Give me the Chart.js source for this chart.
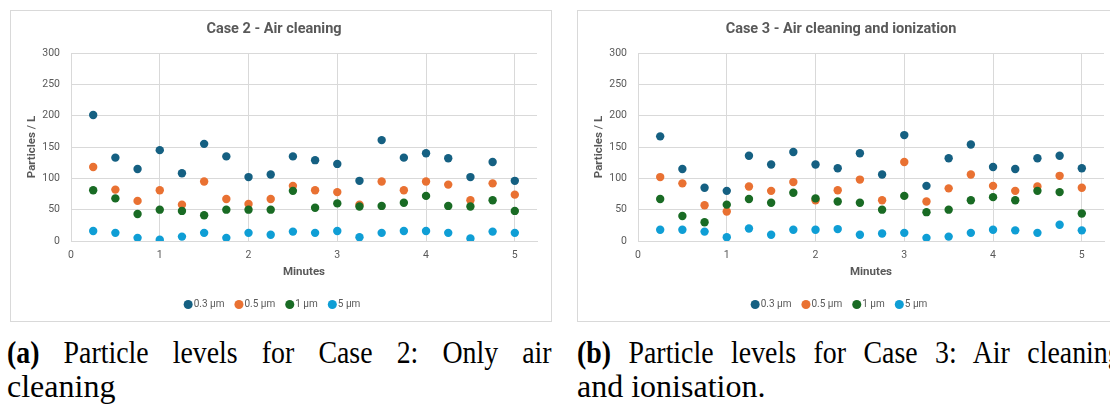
<!DOCTYPE html>
<html>
<head>
<meta charset="utf-8">
<script src="https://cdn.jsdelivr.net/npm/chart.js@4.4.1/dist/chart.umd.min.js"></script>
<style>
body { margin: 0; width: 1110px; height: 409px; overflow: hidden; background: #fff; position: relative; }
.box { position: absolute; top: 10px; width: 540px; height: 310px; border: 1px solid #d9d9d9; background: #fff; }
.box canvas { display: block; }
.cap { position: absolute; width: 545px; font-family: "Liberation Serif", "Times New Roman", serif; font-size: 32px; line-height: 33.5px; color: #000; }
/* first caption line is set narrower in the source picture */
.cap .l1 { width: 626px; transform: scaleX(0.87); transform-origin: left top; text-align: justify; text-align-last: justify; white-space: nowrap; }
</style>
</head>
<body>
<div class="box" style="left:10px"><canvas id="case2" width="540" height="310"></canvas></div>
<div class="box" style="left:577px"><canvas id="case3" width="540" height="310"></canvas></div>

<div class="cap" style="left:7px; top:336px">
  <div class="l1"><b>(a)</b> Particle levels for Case 2: Only air</div>
  <div>cleaning</div>
</div>
<div class="cap" style="left:577px; top:336px">
  <div class="l1"><b>(b)</b> Particle levels for Case 3: Air cleaning</div>
  <div>and ionisation.</div>
</div>

<script>
// sample times (minutes)
const minutes = [0.25, 0.5, 0.75, 1, 1.25, 1.5, 1.75, 2, 2.25, 2.5, 2.75, 3, 3.25, 3.5, 3.75, 4, 4.25, 4.5, 4.75, 5];
const sizeLabels = ['0.3 µm', '0.5 µm', '1 µm', '5 µm'];
const sizeColors = ['#156082', '#E97132', '#196B24', '#0F9ED5'];

// Case 2 - air cleaning only
const case2_03 = [201, 133, 115, 145, 108, 155, 135, 102, 106, 135, 129, 123, 96, 161, 133, 140, 132, 102, 126, 96];
const case2_05 = [118, 82, 64, 81, 58, 95, 67, 59, 67, 88, 81, 78, 58, 95, 81, 95, 90, 65, 92, 74];
const case2_1 = [81, 68, 43, 50, 48, 41, 50, 50, 50, 80, 53, 60, 55, 56, 61, 72, 56, 55, 65, 48];
const case2_5 = [16, 13, 5, 2, 7, 13, 5, 13, 10, 15, 13, 16, 6, 13, 16, 16, 13, 4, 15, 13];

// Case 3 - air cleaning and ionization
const case3_03 = [167, 115, 85, 80, 136, 122, 142, 122, 116, 140, 106, 169, 88, 132, 154, 118, 115, 132, 136, 116];
const case3_05 = [102, 92, 57, 47, 87, 80, 94, 65, 81, 98, 65, 126, 63, 84, 106, 88, 80, 87, 104, 85];
const case3_1 = [67, 40, 30, 58, 67, 61, 77, 68, 63, 61, 50, 72, 46, 50, 65, 70, 65, 80, 78, 44];
const case3_5 = [18, 18, 15, 6, 20, 10, 18, 18, 19, 10, 12, 13, 5, 7, 13, 18, 17, 13, 26, 17];

const xMax = 5.25, xStep = 1;
const yMax = 300, yStep = 50;

const textGray = '#595959';
const gridGray = '#d9d9d9';

Chart.defaults.font.family = 'Roboto, "Liberation Sans", sans-serif';
Chart.defaults.color = textGray;

function drawScatter(id, title, series) {
    var ctx = document.getElementById(id).getContext('2d');
    return new Chart(ctx, {
        type: 'scatter',
        data: {
            datasets: series.map((vals, i) => ({
                label: sizeLabels[i],
                data: minutes.map((m, j) => ({ x: m, y: vals[j] })),
                backgroundColor: sizeColors[i],
                borderColor: sizeColors[i],
                borderWidth: 0,
                pointRadius: 4.2,
                pointHoverRadius: 4.2,
                order: series.length - i   // later series drawn on top, like Excel
            }))
        },
        options: {
            responsive: false,
            animation: false,
            devicePixelRatio: 1,
            layout: { padding: { left: 0, right: 14, top: 0, bottom: 1.5 } },
            plugins: {
                title: {
                    display: true,
                    text: title,
                    color: textGray,
                    font: { size: 14.5, weight: 'bold' },
                    padding: { top: 9.3, bottom: 15.3 }
                },
                legend: {
                    position: 'bottom',
                    labels: {
                        usePointStyle: true,
                        pointStyle: 'circle',
                        boxWidth: 1,
                        boxHeight: 6.4,
                        padding: 14,
                        color: textGray,
                        font: { size: 10 },
                        sort: (a, b) => a.datasetIndex - b.datasetIndex
                    }
                },
                tooltip: { enabled: false }
            },
            scales: {
                x: {
                    type: 'linear',
                    min: 0,
                    max: xMax,
                    ticks: { stepSize: xStep, includeBounds: false, padding: 8.4, color: textGray, font: { size: 10.5 } },
                    grid: { color: gridGray, drawTicks: false },
                    border: { color: gridGray },
                    title: { display: true, text: 'Minutes', color: textGray, font: { size: 11.5, weight: 'bold' }, padding: { top: 0, bottom: 6 } },
                    afterFit: (s) => { s.height = 44.5; }
                },
                y: {
                    min: 0,
                    max: yMax,
                    ticks: { stepSize: yStep, padding: 11, color: textGray, font: { size: 10.5 } },
                    grid: { color: gridGray, drawTicks: false },
                    border: { color: gridGray },
                    title: { display: true, text: 'Particles / L', color: textGray, font: { size: 11.5, weight: 'bold' }, padding: { top: 14, bottom: 0 } },
                    afterFit: (s) => { s.width = 60; }
                }
            }
        }
    });
}

drawScatter('case2', 'Case 2 - Air cleaning', [case2_03, case2_05, case2_1, case2_5]);
drawScatter('case3', 'Case 3 - Air cleaning and ionization', [case3_03, case3_05, case3_1, case3_5]);
</script>
</body>
</html>
